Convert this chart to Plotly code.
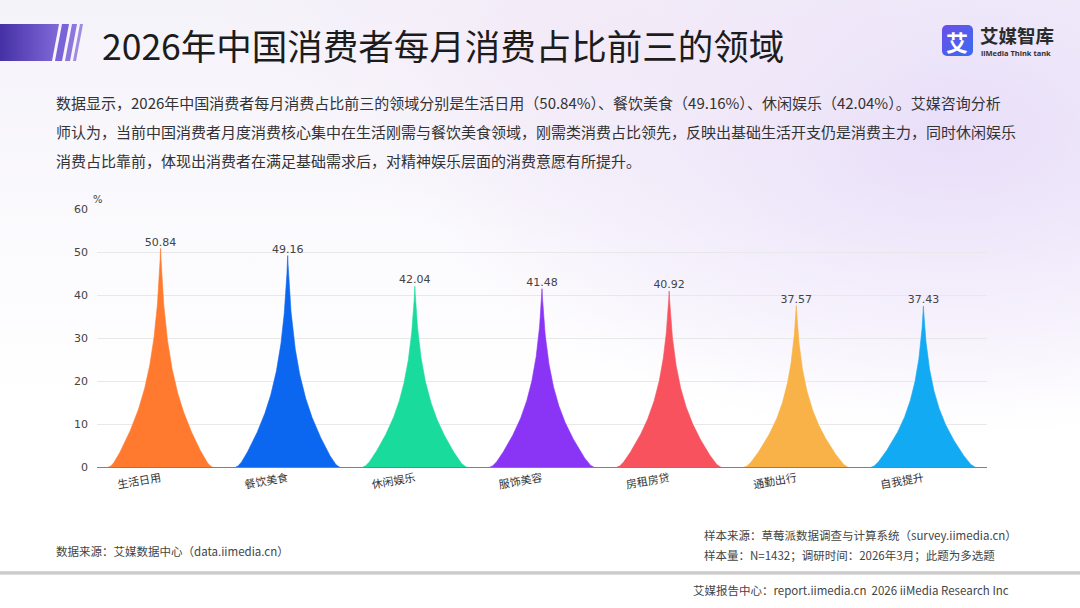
import base64

import numpy as np
import plotly.graph_objects as go

# data (% of consumers, multi-select)
categories = ["生活日用", "餐饮美食", "休闲娱乐", "服饰美容", "房租房贷", "通勤出行", "自我提升"]
values = [50.84, 49.16, 42.04, 41.48, 40.92, 37.57, 37.43]
colors = ["#FF7A2E", "#0B66F0", "#18DB9C", "#8A35F5", "#F7525E", "#F9B247", "#12AAF2"]
y_ticks = [0, 10, 20, 30, 40, 50, 60]

title = "2026年中国消费者每月消费占比前三的领域"
paragraph = [
    "数据显示，2026年中国消费者每月消费占比前三的领域分别是生活日用（50.84%）、餐饮美食（49.16%）、休闲娱乐（42.04%）。艾媒咨询分析",
    "师认为，当前中国消费者月度消费核心集中在生活刚需与餐饮美食领域，刚需类消费占比领先，反映出基础生活开支仍是消费主力，同时休闲娱乐",
    "消费占比靠前，体现出消费者在满足基础需求后，对精神娱乐层面的消费意愿有所提升。",
]
src_left = "数据来源：艾媒数据中心（data.iimedia.cn）"
src_right = ["样本来源：草莓派数据调查与计算系统（survey.iimedia.cn）",
             "样本量：N=1432；调研时间：2026年3月；此题为多选题"]
footer = "艾媒报告中心：report.iimedia.cn  2026 iiMedia Research Inc"

W, H = 1080, 608
L, R, T, B = 97, 93, 209, 141
CJK = "Noto Sans CJK SC"


def fx(px):
    return (px - L) / (W - L - R)


def fy(py):
    return (H - B - py) / (H - T - B)


def spike(i, v, hw=0.41, k=3.0):
    """Sharp spike outline for one category, base half-width hw (category units)."""
    s = np.linspace(0, 1, 200) ** 1.6
    e = np.exp(-k)
    h = -np.log(s * (1 - e) + e) / k * (1 - s ** 8)
    xs = np.concatenate([i - s[::-1] * hw, i + s * hw])
    ys = np.concatenate([h[::-1], h]) * v
    return xs, ys


# decorative background: gradient wash, header bar, logo tile, footer rule
svg = f"""<svg xmlns='http://www.w3.org/2000/svg' width='{W}' height='{H}'>
<defs>
<linearGradient id='v' x1='0' y1='0' x2='0' y2='1'>
<stop offset='0' stop-color='#f5f3fa'/><stop offset='0.4' stop-color='#fbfafd'/><stop offset='0.65' stop-color='#ffffff'/></linearGradient>
<radialGradient id='r' cx='0.88' cy='0.22' r='0.5'>
<stop offset='0' stop-color='#e8ddf9' stop-opacity='0.95'/><stop offset='1' stop-color='#e8ddf9' stop-opacity='0'/></radialGradient>
<radialGradient id='r2' cx='0.55' cy='0.05' r='0.35'>
<stop offset='0' stop-color='#f3e9f7' stop-opacity='0.8'/><stop offset='1' stop-color='#f3e9f7' stop-opacity='0'/></radialGradient>
<linearGradient id='h' x1='0' x2='1' y1='0' y2='0'>
<stop offset='0' stop-color='#4530a5'/><stop offset='1' stop-color='#8169d9'/></linearGradient>
<linearGradient id='g' x1='0' x2='1' y1='0' y2='1'>
<stop offset='0' stop-color='#6a4ee8'/><stop offset='1' stop-color='#3a6cf0'/></linearGradient>
<linearGradient id='f' x1='0' x2='0' y1='0' y2='1'>
<stop offset='0' stop-color='#dcdcdc'/><stop offset='0.5' stop-color='#c4c4c4'/><stop offset='1' stop-color='#e6e6e6'/></linearGradient>
</defs>
<rect width='{W}' height='{H}' fill='url(#v)'/>
<rect width='{W}' height='{H}' fill='url(#r)'/>
<rect width='{W}' height='{H}' fill='url(#r2)'/>
<polygon points='0,24 59,24 52,61 0,61' fill='url(#h)'/>
<polygon points='62,24 69,24 62,61 55,61' fill='#7a63d6'/>
<polygon points='72,24 77,24 70,61 65,61' fill='#8a76dc'/>
<polygon points='80,24 83,24 76,61 73,61' fill='#9d8ce2'/>
<rect x='942' y='25' width='31' height='31' rx='5' fill='url(#g)'/>
<rect x='0' y='571' width='{W}' height='4' fill='url(#f)'/>
<rect x='0' y='575' width='{W}' height='33' fill='#ffffff'/>
</svg>"""
bg = "data:image/svg+xml;base64," + base64.b64encode(svg.encode("utf-8")).decode()

fig = go.Figure()
for i, (v, c) in enumerate(zip(values, colors)):
    xs, ys = spike(i, v)
    fig.add_trace(go.Scatter(x=xs, y=ys, mode="lines", fill="toself", fillcolor=c,
                             line=dict(width=0.6, color=c), hoverinfo="skip",
                             showlegend=False))
fig.add_trace(go.Scatter(x=list(range(len(values))), y=values, mode="text",
                         text=[f"{v:.2f}" for v in values], textposition="top center",
                         textfont=dict(family="DejaVu Sans", size=11, color="#444"),
                         cliponaxis=False, showlegend=False, hoverinfo="skip"))

ann = []


def text(px, py, s, size, color="#333", anchor="left", family=CJK, yanchor="middle"):
    ann.append(dict(x=fx(px), y=fy(py), xref="paper", yref="paper", text=s,
                    showarrow=False, xanchor=anchor, yanchor=yanchor,
                    font=dict(family=family, size=size, color=color)))


text(100, 44, title, 35.5, "#1c1c1c")
for n, line in enumerate(paragraph):
    text(54, 103 + n * 28.5, line, 15, "#333")
text(957, 41, "<b>艾</b>", 22, "#ffffff", anchor="center")
text(978, 35, "<b>艾媒智库</b>", 18.5, "#2b2b2b")
text(979, 53, "<b>iiMedia Think tank</b>", 7.5, "#333", family="Noto Sans")
text(91, 200, "%", 10, "#444", family="DejaVu Sans")
text(54, 551, src_left, 11.5, "#444")
text(702, 535, src_right[0], 11.5, "#444")
text(702, 555, src_right[1], 11.5, "#444")
text(691, 590, footer, 11.5, "#444")

fig.update_layout(
    width=W, height=H,
    margin=dict(l=L, r=R, t=T, b=B),
    paper_bgcolor="#ffffff", plot_bgcolor="rgba(0,0,0,0)",
    images=[dict(source=bg, xref="paper", yref="paper", x=fx(0), y=fy(0),
                 sizex=W / (W - L - R), sizey=H / (H - T - B),
                 xanchor="left", yanchor="top", sizing="stretch", layer="below")],
    annotations=ann,
    xaxis=dict(range=[-0.5, len(categories) - 0.5], tickvals=list(range(len(categories))),
               ticktext=categories, tickangle=-10, showgrid=False, zeroline=False,
               showline=True, linecolor="#808080", linewidth=1, ticks="",
               tickfont=dict(family=CJK, size=11, color="#333"), fixedrange=True),
    yaxis=dict(range=[0, 60], tickvals=y_ticks, showgrid=True, gridcolor="#e8e8e8",
               zeroline=False, ticks="", ticklabelstandoff=8,
               tickfont=dict(family="DejaVu Sans", size=11, color="#444"), fixedrange=True),
    showlegend=False,
)
# drop the page's default body margin so the figure sits at the window origin
fig.write_html("out.html", config={"displayModeBar": False},
               post_script="document.body.style.margin='0';document.body.style.overflow='hidden';")
